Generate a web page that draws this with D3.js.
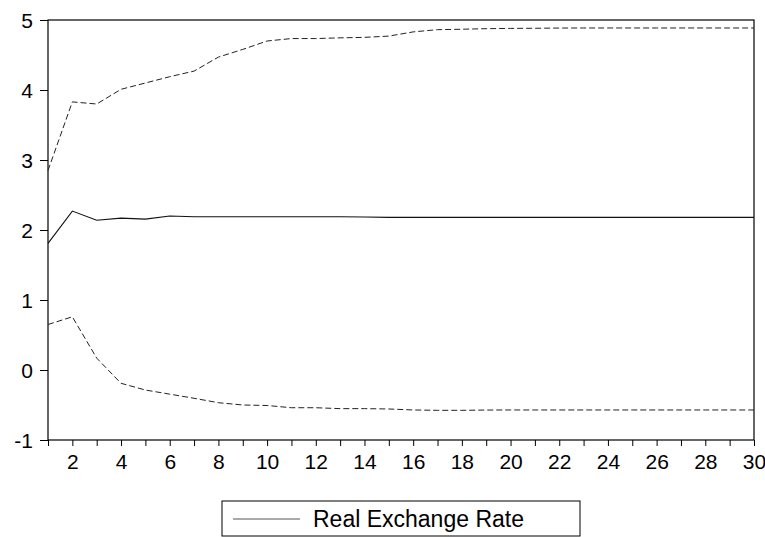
<!DOCTYPE html>
<html>
<head>
<meta charset="utf-8">
<script src="https://cdn.jsdelivr.net/npm/d3@7"></script>
<style>
  html, body { margin: 0; padding: 0; background: #fff; }
  svg { display: block; }
  text { font-family: "Liberation Sans", Arial, sans-serif; fill: #000; }
</style>
</head>
<body>
<svg id="chart" width="765" height="537"></svg>
<script>
const periods = d3.range(1, 31);
const response = [1.81, 2.27, 2.14, 2.17, 2.155, 2.20, 2.19, 2.19, 2.19, 2.19,
                  2.19, 2.19, 2.19, 2.185, 2.18, 2.18, 2.18, 2.18, 2.18, 2.18,
                  2.18, 2.18, 2.18, 2.18, 2.18, 2.18, 2.18, 2.18, 2.18, 2.18];
const upper = [2.85, 3.83, 3.80, 4.01, 4.10, 4.19, 4.27, 4.47, 4.58, 4.70,
               4.735, 4.735, 4.745, 4.752, 4.77, 4.83, 4.862, 4.868, 4.876, 4.88,
               4.882, 4.885, 4.886, 4.886, 4.886, 4.886, 4.886, 4.886, 4.886, 4.886];
const lower = [0.65, 0.76, 0.17, -0.19, -0.286, -0.345, -0.404, -0.467, -0.50, -0.507,
               -0.539, -0.539, -0.552, -0.552, -0.557, -0.571, -0.576, -0.576, -0.572, -0.571,
               -0.571, -0.571, -0.571, -0.571, -0.571, -0.571, -0.571, -0.571, -0.571, -0.571];
const yTicks = [-1, 0, 1, 2, 3, 4, 5];
const xLabelTicks = d3.range(2, 31, 2);
const legendLabel = "Real Exchange Rate";

const svg = d3.select("#chart");
const L = 48, R = 754, T = 20, B = 440;
const x = d3.scaleLinear().domain([1, 30]).range([L, R]);
const y = d3.scaleLinear().domain([-1, 5]).range([B, T]);
const FONT = "Liberation Sans, Arial, sans-serif";

// y axis
const yAxis = svg.append("g").attr("transform", `translate(${L},0)`)
  .call(d3.axisLeft(y).tickValues(yTicks).tickFormat(d => String(d)).tickSize(8).tickPadding(7));
yAxis.attr("font-family", FONT).attr("font-size", 21);
yAxis.select(".domain").remove();
yAxis.selectAll("line").attr("stroke", "#000");
yAxis.selectAll("text").attr("fill", "#000").attr("dy", "0.36em");

// x axis: ticks every integer, labels on even
const xAxis = svg.append("g").attr("transform", `translate(0,${B})`)
  .call(d3.axisBottom(x).tickValues(periods).tickSize(6).tickPadding(8)
    .tickFormat(d => xLabelTicks.includes(d) ? String(d) : ""));
xAxis.attr("font-family", FONT).attr("font-size", 21);
xAxis.select(".domain").remove();
xAxis.selectAll("line").attr("stroke", "#000");
xAxis.selectAll("text").attr("fill", "#000");

// frame
svg.append("rect").attr("x", L).attr("y", T).attr("width", R - L).attr("height", B - T)
  .attr("fill", "none").attr("stroke", "#000").attr("stroke-width", 1.2);

const line = d3.line().x((d, i) => x(periods[i])).y(d => y(d));

svg.append("path").datum(upper).attr("d", line).attr("fill", "none")
  .attr("stroke", "#222").attr("stroke-width", 1).attr("stroke-dasharray", "6,3");
svg.append("path").datum(lower).attr("d", line).attr("fill", "none")
  .attr("stroke", "#222").attr("stroke-width", 1).attr("stroke-dasharray", "6,3");
svg.append("path").datum(response).attr("d", line).attr("fill", "none")
  .attr("stroke", "#111").attr("stroke-width", 1.1);

// legend
const lg = svg.append("g");
lg.append("rect").attr("x", 222).attr("y", 501).attr("width", 358).attr("height", 35)
  .attr("fill", "#fff").attr("stroke", "#000").attr("stroke-width", 1);
lg.append("line").attr("x1", 233).attr("x2", 300).attr("y1", 519).attr("y2", 519)
  .attr("stroke", "#555").attr("stroke-width", 1);
lg.append("text").attr("x", 313).attr("y", 527).attr("font-size", 23)
  .attr("font-family", FONT).text(legendLabel);
</script>
</body>
</html>
